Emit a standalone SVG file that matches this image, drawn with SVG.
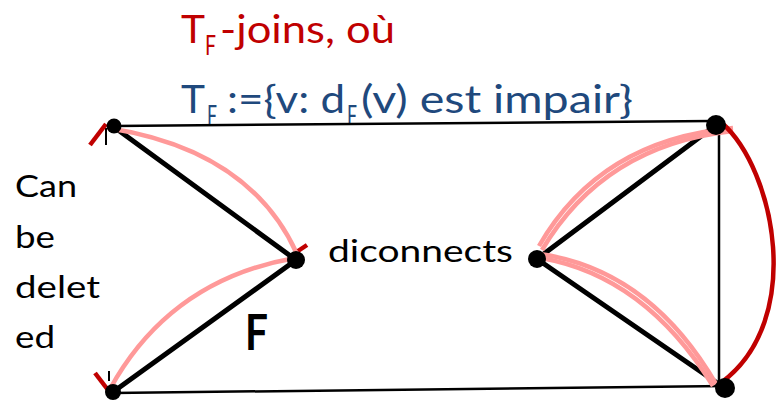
<svg xmlns="http://www.w3.org/2000/svg" width="778" height="403" viewBox="0 0 778 403">
<style>
  text { font-family: Lato, "Open Sans", "Liberation Sans", sans-serif; }
  .red { fill: #C00000; }
  .blue { fill: #1F497D; }
  .blk { fill: #000000; }
  .thin { stroke: #000; stroke-width: 2.5; fill: none; }
  .thick { stroke: #000; stroke-width: 5; fill: none; stroke-linecap: round; }
  .pink { stroke: #FF9999; stroke-width: 4.5; fill: none; }
  .redl { stroke: #C00000; stroke-width: 4.5; fill: none; }
  .node { fill: #000; }
</style>
<g id="texts">
  <text class="red" x="181" y="43" font-size="39" textLength="24" lengthAdjust="spacingAndGlyphs">T</text>
  <text class="red" x="205" y="55" font-size="26" textLength="11" lengthAdjust="spacingAndGlyphs">F</text>
  <text class="red" x="220" y="43" font-size="39" textLength="175" lengthAdjust="spacingAndGlyphs">-joins, où</text>
  <text class="blue" x="181" y="113" font-size="39" textLength="24" lengthAdjust="spacingAndGlyphs">T</text>
  <text class="blue" x="207" y="125" font-size="26" textLength="10" lengthAdjust="spacingAndGlyphs">F</text>
  <text class="blue" x="227" y="113" font-size="39" textLength="118" lengthAdjust="spacingAndGlyphs">:={v: d</text>
  <text class="blue" x="347" y="125" font-size="26" textLength="10" lengthAdjust="spacingAndGlyphs">F</text>
  <text class="blue" x="361" y="113" font-size="39" textLength="272" lengthAdjust="spacingAndGlyphs">(v) est impair}</text>
  <text class="blk" x="15" y="197" font-size="31" textLength="62" lengthAdjust="spacingAndGlyphs">Can</text>
  <text class="blk" x="15" y="248" font-size="31" textLength="40" lengthAdjust="spacingAndGlyphs">be</text>
  <text class="blk" x="15" y="298" font-size="31" textLength="85" lengthAdjust="spacingAndGlyphs">delet</text>
  <text class="blk" x="15" y="348" font-size="31" textLength="40" lengthAdjust="spacingAndGlyphs">ed</text>
  <text class="blk" x="328" y="262" font-size="31" textLength="185" lengthAdjust="spacingAndGlyphs">diconnects</text>
  <text class="blk" x="245" y="350" font-size="50" font-weight="bold" textLength="23" lengthAdjust="spacingAndGlyphs">F</text>
</g>
<g id="connectors">
  <line class="thin" x1="114" y1="126" x2="712" y2="121"/>
  <line class="thin" x1="113" y1="393" x2="725" y2="386"/>
  <line class="thin" x1="719" y1="125" x2="719" y2="386"/>
  <line class="thick" x1="114" y1="127" x2="296" y2="260"/>
  <line class="thick" x1="296" y1="260" x2="113" y2="392"/>
  <line class="thick" x1="537" y1="259" x2="716" y2="125"/>
  <line class="thick" x1="537" y1="259" x2="723" y2="387"/>
  <line x1="106" y1="128" x2="106" y2="145" stroke="#000" stroke-width="2"/>
  <line x1="109" y1="371" x2="109" y2="381" stroke="#000" stroke-width="2"/>
  <path class="pink" d="M108,128 Q250,150 297,254"/>
  <path class="pink" d="M295,258 Q170,280 110,389"/>
  <path class="pink" d="M539,246 Q600,140 733,128"/>
  <path class="pink" d="M542,250 Q604,145 733,131"/>
  <path class="pink" d="M540,254 Q650,270 716,384"/>
  <path class="pink" d="M541,258 Q645,276 713,386"/>
  <path class="redl" d="M722,123 C775,170 805,320 722,382"/>
  <line class="redl" x1="90" y1="145" x2="106" y2="124" stroke-width="6"/>
  <line class="redl" x1="95" y1="373" x2="108" y2="390" stroke-width="5"/>
  <line class="redl" x1="298" y1="251" x2="307" y2="245" stroke-width="4"/>
</g>
<g id="node-A"><circle class="node" cx="114" cy="126" r="7.5"/></g>
<g id="node-B"><circle class="node" cx="296" cy="260" r="9"/></g>
<g id="node-C"><circle class="node" cx="113" cy="392" r="8"/></g>
<g id="node-D"><circle class="node" cx="537" cy="259" r="9"/></g>
<g id="node-E"><circle class="node" cx="716" cy="125" r="10"/></g>
<g id="node-G"><circle class="node" cx="725" cy="388" r="10"/></g>
</svg>
